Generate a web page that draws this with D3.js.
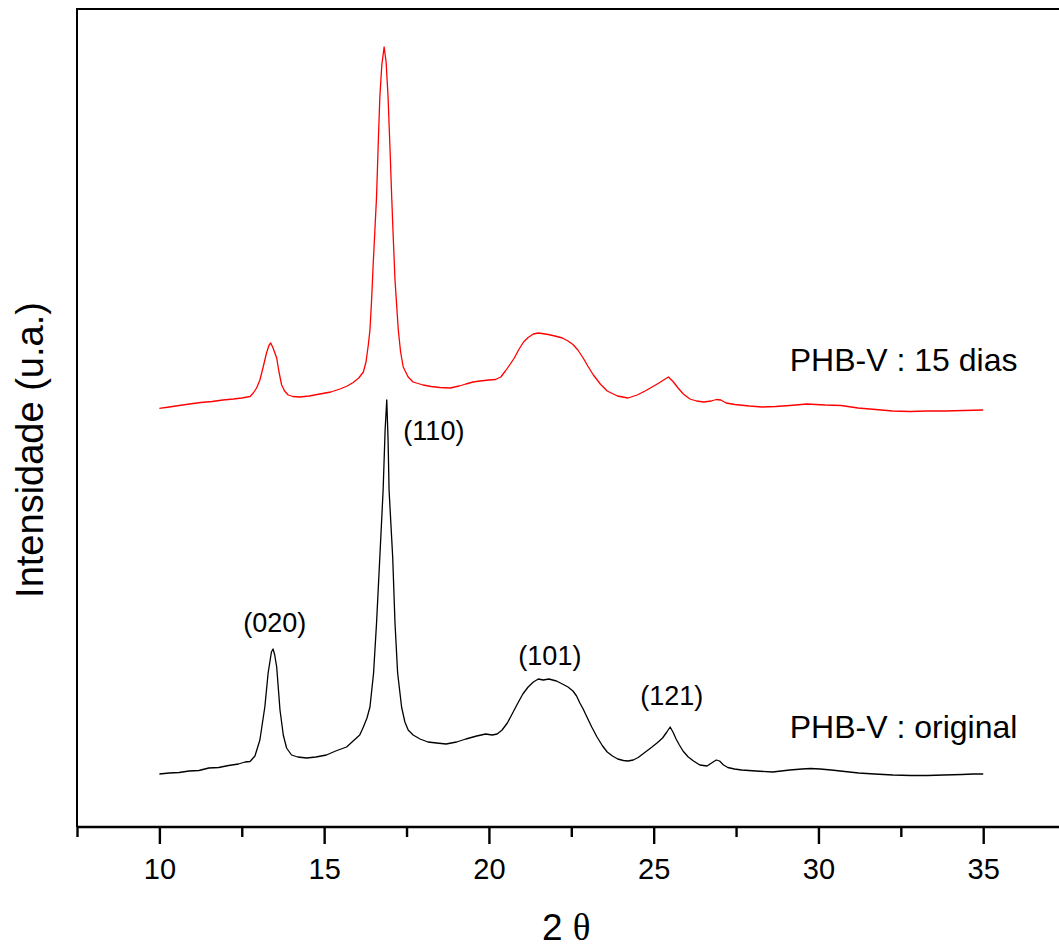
<!DOCTYPE html>
<html>
<head>
<meta charset="utf-8">
<script src="https://cdn.jsdelivr.net/npm/d3@7"></script>
<style>
  html, body { margin: 0; padding: 0; background: #fff; }
  svg { display: block; }
  text { font-family: "Liberation Sans", Arial, sans-serif; fill: #000; }
</style>
</head>
<body>
<script>
// ---------- DATA ----------
const xTicksMajor = [10, 15, 20, 25, 30, 35];
const xTicksMinor = [7.5, 12.5, 17.5, 22.5, 27.5, 32.5];

const twoThetaOriginal = [10.0,10.3,10.6,10.9,11.2,11.5,11.8,12.1,12.4,12.6,12.75,12.9,13.05,13.2,13.3,13.4,13.45,13.5,13.56,13.66,13.76,13.86,14.01,14.2,14.47,14.75,15.07,15.35,15.68,15.88,16.08,16.19,16.3,16.39,16.5,16.59,16.69,16.79,16.85,16.9,16.94,16.97,17.08,17.15,17.23,17.35,17.45,17.55,17.7,17.91,18.15,18.41,18.7,19.02,19.3,19.63,19.9,20.1,20.25,20.4,20.56,20.72,20.88,21.03,21.19,21.35,21.5,21.65,21.82,22.05,22.23,22.4,22.55,22.66,22.76,22.86,22.96,23.12,23.28,23.45,23.59,23.75,23.91,24.08,24.22,24.38,24.53,24.75,24.95,25.1,25.27,25.4,25.5,25.6,25.68,25.78,25.89,26.05,26.21,26.4,26.62,26.78,26.9,27.0,27.12,27.25,27.45,27.67,28.1,28.61,29.13,29.5,29.76,30.05,30.39,30.8,31.22,31.7,32.26,32.8,33.31,33.8,34.36,34.7,35.0];
const intensityOriginal = [53,54,54.5,56,56.5,59,59.5,61.5,63,65,65.5,71,87,120,154,175,178,172,160,117,92,79,72,70,69,70,72,76,80,86,92,100,109,120,154,204,270,337,397,427,387,337,270,204,154,120,105,97,92,88,85,84,83,85,88,91,93,92,93,97,104,114,124,133,140,145,148,147,148,146,143,140,136,131,124,118,111,100,90,81,75,71,68,66.5,66,67,69.5,75,80,84,89,95,100,94,88,82,76,70,66,62,61,64.5,67,66,62,59.5,58,57,56,55,57,58,58.5,58,57,55.5,54,53,52,51.5,51.5,52,52.5,53,53];

const twoTheta15Dias = [10.0,10.3,10.6,10.92,11.25,11.6,11.93,12.25,12.5,12.75,12.85,12.95,13.05,13.15,13.25,13.33,13.38,13.45,13.56,13.63,13.71,13.8,13.91,14.05,14.26,14.55,14.87,15.2,15.48,15.7,15.88,16.05,16.19,16.27,16.34,16.39,16.44,16.49,16.54,16.59,16.64,16.69,16.75,16.82,16.88,16.94,17.0,17.05,17.1,17.15,17.25,17.32,17.4,17.55,17.7,18.0,18.25,18.51,18.82,19.1,19.3,19.52,19.73,20.0,20.2,20.36,20.5,20.65,20.77,20.9,21.05,21.19,21.35,21.5,21.61,21.8,22.0,22.23,22.4,22.55,22.7,22.86,23.0,23.17,23.38,23.59,23.9,24.22,24.5,24.74,24.95,25.16,25.3,25.45,25.6,25.74,25.9,26.1,26.3,26.52,26.75,26.9,27.04,27.2,27.46,27.9,28.29,28.7,29.13,29.65,30.2,30.69,31.2,31.74,32.25,32.78,33.3,33.83,34.4,35.0];
const intensity15Dias = [418.7,420,421.5,423,424.5,425.5,427,428,429,430.5,434,439,447,460,474,482,484,479,469,455,442,436,432,430.5,430,431,433,435,438,441,444.5,449,455,465,482,497,527,564,597,630,682,730,762,780,765,730,677,630,587,547,497,475,460,450,445,442,440.5,439.5,439,441,443,445,446,447,447.5,450,456,463,469,477,485,489.5,493,494,493.5,492.5,491,489,486,482.5,477,469,461,452,443,436,431,429,432,436,440,444,447,450,445,439,433,428,426,425,426,427.5,427,424,422.5,421,420,420.5,421.5,423,422,421.5,419,417.5,416,415.5,416,416,416.5,417];

const peakLabels = ["(020)", "(110)", "(101)", "(121)"];
const peakLabelPos = [13.5, 18.33, 21.85, 25.55];  // 2θ at label centre
const peakLabelInt = [195, 387, 162, 122];        // intensity at label baseline
const seriesNames = ["PHB-V : original", "PHB-V : 15 dias"];
const seriesColors = ["#000000", "#ff0000"];
const seriesLabelPos = [29.13, 29.13];
const seriesLabelInt = [89, 456];

// ---------- LAYOUT ----------
const W = 1059, H = 949;
const mLeft = 77, mRight = 1059, mTop = 9, mBottom = 827;

const svg = d3.select("body").append("svg").attr("width", W).attr("height", H);
svg.append("rect").attr("width", W).attr("height", H).attr("fill", "#fff");

const x = d3.scaleLinear().domain([7.5, 37.3]).range([mLeft, mRight]);
const y = d3.scaleLinear().domain([0, mBottom - mTop]).range([mBottom, mTop]);

// frame: top and left
svg.append("line").attr("x1", mLeft).attr("x2", mRight + 5).attr("y1", mTop).attr("y2", mTop)
  .attr("stroke", "#000").attr("stroke-width", 2);
svg.append("line").attr("x1", mLeft).attr("x2", mLeft).attr("y1", mTop - 1).attr("y2", mBottom)
  .attr("stroke", "#000").attr("stroke-width", 2);

// bottom axis
const axisMajor = d3.axisBottom(x).tickValues(xTicksMajor).tickSize(17).tickSizeOuter(0).tickPadding(14)
  .tickFormat(d3.format("d"));
const gx = svg.append("g").attr("transform", `translate(0,${mBottom})`).call(axisMajor);
gx.select(".domain").attr("stroke-width", 2.4).attr("d", `M${mLeft},0H${mRight + 5}`);
gx.selectAll(".tick line").attr("stroke-width", 2.4);
gx.selectAll(".tick text").attr("font-size", 29).attr("font-family", '"Liberation Sans", Arial, sans-serif')
  .attr("fill", "#000");

const axisMinor = d3.axisBottom(x).tickValues(xTicksMinor).tickSize(10).tickFormat("");
const gm = svg.append("g").attr("transform", `translate(0,${mBottom})`).call(axisMinor);
gm.select(".domain").remove();
gm.selectAll(".tick line").attr("stroke-width", 2.4);

// series
const line = d3.line().x(d => x(d[0])).y(d => y(d[1]));
const series = [
  d3.zip(twoThetaOriginal, intensityOriginal),
  d3.zip(twoTheta15Dias, intensity15Dias)
];
series.forEach((s, i) => {
  svg.append("path").datum(s).attr("d", line).attr("fill", "none")
    .attr("stroke", seriesColors[i]).attr("stroke-width", 1.3).attr("stroke-linejoin", "round");
});

// peak labels
peakLabels.forEach((t, i) => {
  svg.append("text").attr("x", x(peakLabelPos[i])).attr("y", y(peakLabelInt[i]))
    .attr("text-anchor", "middle").attr("font-size", 27).text(t);
});

// series labels
seriesNames.forEach((t, i) => {
  svg.append("text").attr("x", x(seriesLabelPos[i])).attr("y", y(seriesLabelInt[i]))
    .attr("text-anchor", "start").attr("font-size", 32).text(t);
});

// axis titles
svg.append("text").attr("transform", `translate(43,450) rotate(-90)`)
  .attr("text-anchor", "middle").attr("font-size", 38).text("Intensidade (u.a.)");

const xt = svg.append("text").attr("x", 542).attr("y", 940).attr("font-size", 37);
xt.append("tspan").text("2 ");
xt.append("tspan").attr("font-family", '"Liberation Serif", "DejaVu Serif", serif').text("θ");
</script>
</body>
</html>
